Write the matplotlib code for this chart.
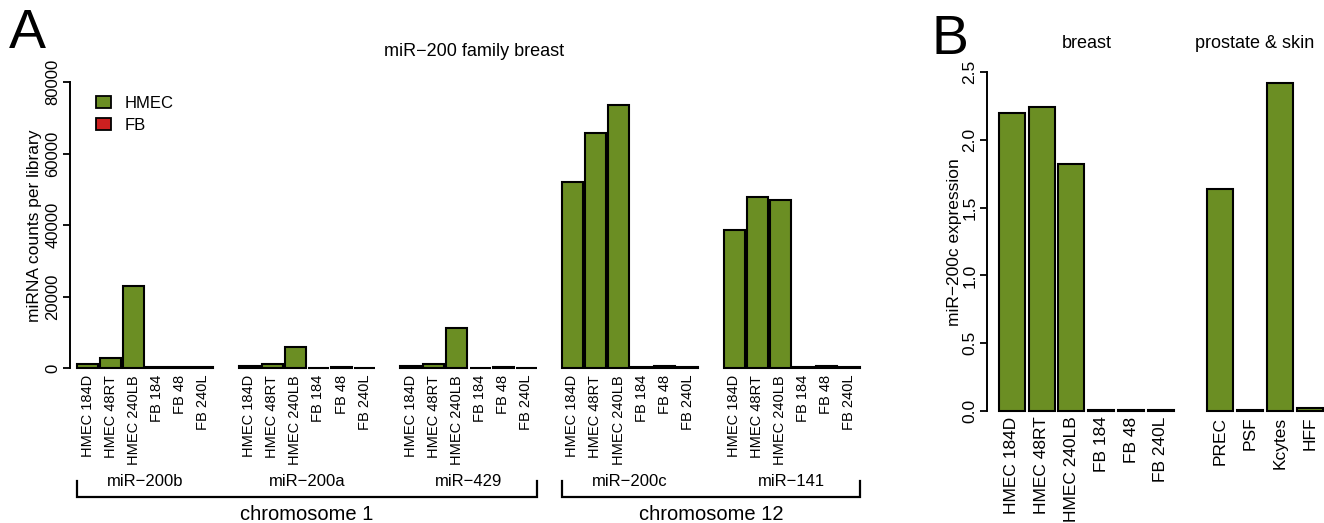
import matplotlib
matplotlib.use("Agg")
import matplotlib.pyplot as plt
from matplotlib.patches import Patch
from matplotlib.transforms import blended_transform_factory

plt.rcParams['font.family'] = ['Liberation Sans', 'DejaVu Sans']

# ----- data -----
samples = ["HMEC 184D", "HMEC 48RT", "HMEC 240LB", "FB 184", "FB 48", "FB 240L"]
mirnas = ["miR\u2212200b", "miR\u2212200a", "miR\u2212429", "miR\u2212200c", "miR\u2212141"]
chromosomes = ["chromosome 1", "chromosome 12"]
chrom_members = [[0, 1, 2], [3, 4]]

counts_200b = [1200, 2700, 22900, 150, 200, 150]
counts_200a = [500, 1000, 5900, 100, 150, 100]
counts_429 = [500, 1100, 11100, 100, 150, 100]
counts_200c = [51900, 65800, 73600, 150, 600, 200]
counts_141 = [38700, 47700, 47000, 150, 500, 150]
counts = [counts_200b, counts_200a, counts_429, counts_200c, counts_141]

breast_samples = ["HMEC 184D", "HMEC 48RT", "HMEC 240LB", "FB 184", "FB 48", "FB 240L"]
other_samples = ["PREC", "PSF", "Kcytes", "HFF"]
expr_breast = [2.20, 2.24, 1.82, 0.01, 0.01, 0.01]
expr_other = [1.64, 0.01, 2.42, 0.02]

# ----- style -----
GREEN = "#6B8E23"
RED = "#CC2020"
W, H = 1324, 523


def fx(px):
    return px / W


def fy(py):
    return 1 - py / H


fig = plt.figure(figsize=(W / 100, H / 100), dpi=100)

# ----- panel A -----
axA = fig.add_axes([fx(70), fy(368), fx(870) - fx(70), fy(82) - fy(368)])
pos, heights, cols, labels = [], [], [], []
for g, vals in enumerate(counts):
    for b, v in enumerate(vals):
        pos.append(7 * g + b)
        heights.append(v)
        cols.append(GREEN if samples[b].startswith("HMEC") else RED)
        labels.append(samples[b])
bars = axA.bar(pos, heights, width=0.91, color=cols, edgecolor="black", linewidth=1.5)
for r in bars:
    r.set_clip_on(False)
axA.set_xlim(-0.76, 33.89)
axA.set_ylim(0, 80000)
axA.set_yticks([0, 20000, 40000, 60000, 80000])
axA.set_xticks(pos)
axA.set_xticklabels(labels, rotation=90, fontsize=10.5)
axA.tick_params(axis='x', length=0, pad=5)
axA.tick_params(axis='y', length=5, width=1.3, pad=2, labelsize=12, labelrotation=90)
for t in axA.get_yticklabels():
    t.set_verticalalignment('center')
for s in ["top", "right", "bottom"]:
    axA.spines[s].set_visible(False)
axA.spines["left"].set_linewidth(1.4)

fig.text(fx(35), fy(226), "miRNA counts per library", rotation=90,
         ha='center', va='center', fontsize=12.5)
fig.text(fx(474), fy(52), "miR\u2212200 family breast", ha='center', va='center', fontsize=13)
fig.text(fx(9), fy(8), "A", ha='left', va='top', fontsize=40)

axA.legend(handles=[Patch(facecolor=GREEN, edgecolor="black", linewidth=1.3, label="HMEC"),
                    Patch(facecolor=RED, edgecolor="black", linewidth=1.3, label="FB")],
           loc='upper left', bbox_to_anchor=(fx(96), fy(96)), bbox_transform=fig.transFigure,
           frameon=False, fontsize=12, handlelength=0.9, handleheight=0.7,
           handletextpad=0.8, labelspacing=0.4, borderpad=0, borderaxespad=0)

# brackets and group labels
tr = blended_transform_factory(axA.transData, fig.transFigure)
for c, members in enumerate(chrom_members):
    x0 = 7 * members[0] - 0.455
    x1 = 7 * members[-1] + 5 + 0.455
    axA.plot([x0, x0, x1, x1], [fy(481), fy(497), fy(497), fy(481)], color="black",
             linewidth=1.6, transform=tr, clip_on=False, solid_joinstyle='miter')
    axA.text((x0 + x1) / 2, fy(515), chromosomes[c], transform=tr, ha='center',
             va='center', fontsize=14.5)
    for g in members:
        axA.text(7 * g + 2.5, fy(481), mirnas[g], transform=tr, ha='center',
                 va='center', fontsize=12)

# ----- panel B -----
axB = fig.add_axes([fx(987), fy(411), fx(1324) - fx(987), fy(72) - fy(411)])
posB = list(range(len(breast_samples))) + [7 + i for i in range(len(other_samples))]
valsB = expr_breast + expr_other
barsB = axB.bar(posB, valsB, width=0.87, color=GREEN, edgecolor="black", linewidth=1.5)
for r in barsB:
    r.set_clip_on(False)
axB.set_xlim(-0.833, 10.476)
axB.set_ylim(0, 2.5)
axB.set_yticks([0, 0.5, 1.0, 1.5, 2.0, 2.5])
axB.set_yticklabels(["0.0", "0.5", "1.0", "1.5", "2.0", "2.5"])
axB.set_xticks(posB)
axB.set_xticklabels(breast_samples + other_samples, rotation=90, fontsize=12.5)
axB.tick_params(axis='x', length=0, pad=4)
axB.tick_params(axis='y', length=5, width=1.3, pad=2, labelsize=12.5, labelrotation=90)
for t in axB.get_yticklabels():
    t.set_verticalalignment('center')
for s in ["top", "right", "bottom"]:
    axB.spines[s].set_visible(False)
axB.spines["left"].set_linewidth(1.4)

fig.text(fx(954), fy(242), "miR\u2212200c expression", rotation=90,
         ha='center', va='center', fontsize=12.5)
trB = blended_transform_factory(axB.transData, fig.transFigure)
axB.text(2.5, fy(44), "breast", transform=trB, ha='center', va='center', fontsize=13)
axB.text(8.15, fy(44), "prostate & skin", transform=trB, ha='center', va='center', fontsize=13)
fig.text(fx(931), fy(14), "B", ha='left', va='top', fontsize=40)

fig.savefig("out.png", dpi=100)
